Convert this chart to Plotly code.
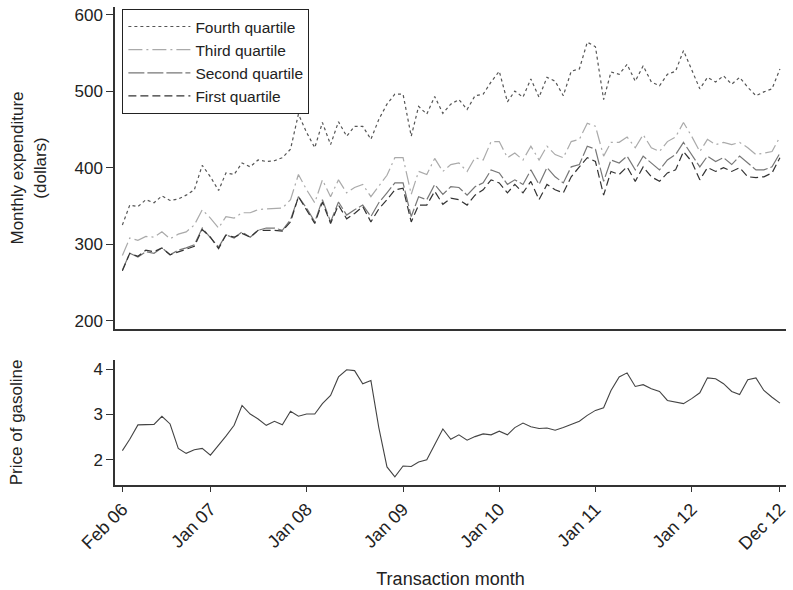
import pandas as pd
import plotly.graph_objects as go
from plotly.subplots import make_subplots

months = pd.date_range("2006-02-01", periods=83, freq="MS")

fourth_q = [325, 351, 349, 358, 354, 363, 357, 359, 364, 371, 403, 388, 370, 393, 391, 406, 401, 410, 408, 409,
            413, 424, 470, 446, 426, 459, 430, 460, 441, 454, 454, 437, 463, 483, 496, 496, 441, 480, 470, 493,
            471, 483, 489, 476, 494, 496, 512, 526, 486, 500, 492, 516, 492, 518, 513, 494, 526, 529, 564, 558,
            489, 525, 522, 535, 513, 533, 512, 507, 522, 526, 553, 529, 503, 518, 512, 520, 509, 518, 505, 494,
            499, 503, 529]
third_q = [285, 308, 305, 310, 309, 316, 307, 313, 316, 325, 345, 334, 321, 336, 334, 341, 341, 345, 346, 347,
           347, 358, 391, 371, 354, 384, 362, 384, 367, 374, 378, 362, 375, 390, 413, 413, 365, 395, 391, 412,
           395, 404, 406, 395, 413, 410, 434, 434, 413, 419, 410, 428, 410, 428, 417, 413, 434, 437, 458, 454,
           415, 433, 433, 440, 426, 443, 426, 421, 434, 440, 459, 441, 421, 437, 430, 433, 430, 433, 426, 417,
           419, 421, 440]
second_q = [266, 288, 283, 290, 288, 295, 286, 292, 295, 299, 321, 308, 296, 312, 308, 316, 309, 318, 321, 321,
            318, 332, 362, 347, 329, 358, 329, 355, 338, 345, 351, 336, 354, 367, 380, 380, 336, 362, 358, 378,
            365, 375, 374, 364, 375, 380, 397, 393, 378, 384, 378, 397, 378, 400, 388, 380, 401, 404, 428, 424,
            382, 410, 406, 415, 397, 415, 406, 397, 410, 417, 433, 417, 401, 415, 408, 413, 404, 415, 406, 397,
            397, 401, 419]
first_q = [265, 288, 284, 292, 290, 295, 286, 290, 294, 297, 319, 309, 294, 312, 309, 314, 309, 318, 318, 318,
           317, 329, 362, 345, 327, 355, 327, 351, 333, 340, 349, 329, 346, 358, 371, 373, 329, 351, 351, 369,
           352, 360, 358, 351, 364, 371, 384, 380, 367, 378, 367, 382, 358, 378, 371, 367, 388, 401, 413, 408,
           364, 395, 391, 401, 382, 401, 388, 382, 393, 397, 421, 408, 384, 400, 395, 400, 395, 400, 388, 387,
           388, 393, 413]
gas_price = [2.20, 2.45, 2.77, 2.77, 2.78, 2.96, 2.79, 2.25, 2.14, 2.22, 2.25, 2.10, 2.31, 2.52, 2.76, 3.20,
             3.01, 2.90, 2.76, 2.85, 2.77, 3.07, 2.96, 3.01, 3.01, 3.24, 3.42, 3.83, 3.99, 3.97, 3.68, 3.75,
             2.71, 1.84, 1.62, 1.86, 1.85, 1.95, 2.00, 2.34, 2.68, 2.45, 2.55, 2.43, 2.51, 2.57, 2.55, 2.63,
             2.55, 2.71, 2.81, 2.73, 2.69, 2.70, 2.65, 2.71, 2.78, 2.85, 2.98, 3.09, 3.15, 3.53, 3.83, 3.92,
             3.62, 3.66, 3.57, 3.51, 3.31, 3.27, 3.24, 3.35, 3.48, 3.81, 3.79, 3.68, 3.51, 3.44, 3.77, 3.81,
             3.53, 3.38, 3.25]

tick_dates = ["2006-02-01", "2007-01-01", "2008-01-01", "2009-01-01", "2010-01-01",
              "2011-01-01", "2012-01-01", "2012-12-01"]
tick_labels = ["Feb 06", "Jan 07", "Jan 08", "Jan 09", "Jan 10", "Jan 11", "Jan 12", "Dec 12"]

series = [
    ("Fourth quartile", fourth_q, "#555555", "3px,3px"),
    ("Third quartile", third_q, "#aaaaaa", "14px,4px,2px,4px"),
    ("Second quartile", second_q, "#777777", "16px,3px"),
    ("First quartile", first_q, "#333333", "8px,4px"),
]

fig = make_subplots(rows=2, cols=1, shared_xaxes=False, vertical_spacing=0.0)

for name, vals, col, dash in series:
    fig.add_trace(go.Scatter(x=months, y=vals, mode="lines", name=name,
                             line=dict(color=col, width=1.2, dash=dash)), row=1, col=1)

fig.add_trace(go.Scatter(x=months, y=gas_price, mode="lines", showlegend=False,
                         line=dict(color="#444444", width=1.1)), row=2, col=1)

xrange = ["2006-01-04", "2012-12-24"]
font_family = "Liberation Sans, Arial, sans-serif"

fig.update_layout(
    width=793, height=590,
    margin=dict(l=115, r=4, t=7, b=104),
    paper_bgcolor="white", plot_bgcolor="white",
    font=dict(family=font_family, color="#222222", size=15),
    legend=dict(x=0.011, y=0.996, xanchor="left", yanchor="top",
                bordercolor="#222222", borderwidth=1, bgcolor="white",
                font=dict(size=15.5), itemwidth=62, tracegroupgap=0),
    xaxis=dict(domain=[0, 1], range=xrange, showline=True, linecolor="#333333", linewidth=1.5,
               showticklabels=False, ticks="", showgrid=False, zeroline=False, anchor="y"),
    yaxis=dict(domain=[0.3264, 1], range=[189, 610], tickvals=[200, 300, 400, 500, 600],
               showline=True, linecolor="#333333", linewidth=1.5, ticks="outside", ticklen=7,
               tickcolor="#333333", showgrid=False, zeroline=False, tickfont=dict(size=17),
               title=dict(text="Monthly expenditure<br>(dollars)", font=dict(size=17), standoff=24)),
    xaxis2=dict(domain=[0, 1], range=xrange, showline=True, linecolor="#333333", linewidth=1.5,
                tickvals=tick_dates, ticktext=tick_labels, tickangle=-45, ticks="outside", ticklen=5,
                tickcolor="#333333", showgrid=False, zeroline=False, tickfont=dict(size=18), anchor="y2",
                title=dict(text="Transaction month", font=dict(size=18), standoff=20)),
    yaxis2=dict(domain=[0, 0.262], range=[1.44, 4.21], tickvals=[2, 3, 4],
                showline=True, linecolor="#333333", linewidth=1.5, ticks="outside", ticklen=7,
                tickcolor="#333333", showgrid=False, zeroline=False, tickfont=dict(size=17),
                title=dict(text="Price of gasoline", font=dict(size=17), standoff=66)),
)

fig.write_html("out.html", config={"displayModeBar": False},
               post_script="document.body.style.margin='0';")
